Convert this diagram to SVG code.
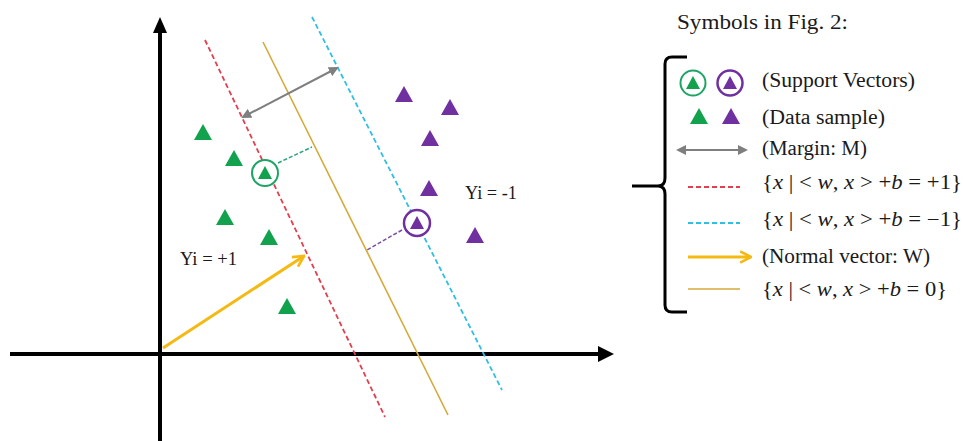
<svg xmlns="http://www.w3.org/2000/svg" width="963" height="441" viewBox="0 0 963 441">
<defs>
<style>
.txt{font-family:"Liberation Serif","Times New Roman",serif;fill:#1a1a1a;}
.lbl{font-size:18px;}
.leg{font-size:20px;}
.it{font-style:italic;}
.g{fill:#12a24e;}
.p{fill:#7030a0;}
.axis{stroke:#000;stroke-width:4;fill:none;}
.red{stroke:#e0404e;stroke-width:1.8;stroke-dasharray:5 3;fill:none;}
.cyan{stroke:#30bfe0;stroke-width:1.8;stroke-dasharray:5 3;fill:none;}
.gold{stroke:#d4aa3a;stroke-width:1.6;fill:none;}
.normal{stroke:#f5b914;stroke-width:3;fill:none;}
.margin{stroke:#7f7f7f;stroke-width:2;fill:none;}
</style>
<marker id="gh" viewBox="0 0 10 10" refX="8" refY="5" markerWidth="5" markerHeight="5" orient="auto-start-reverse" markerUnits="strokeWidth">
<path d="M0,0 L10,5 L0,10 z" fill="#7f7f7f"/>
</marker>
<marker id="yh" viewBox="0 0 10 10" refX="9" refY="5" markerWidth="4.5" markerHeight="4.5" orient="auto" markerUnits="strokeWidth">
<path d="M1,0.8 L9,5 L1,9.2" fill="none" stroke="#f5b914" stroke-width="2"/>
</marker>
<path id="tri" d="M0,-8 L9,8 L-9,8 z"/>
<path id="stri" d="M0,-7 L7,6 L-7,6 z"/>
</defs>
<rect width="963" height="441" fill="#fff"/>

<g id="axes">
<line class="axis" x1="160" y1="441" x2="160" y2="30"/>
<polygon points="160,17 153,33 167,33" fill="#000"/>
<line class="axis" x1="10" y1="354" x2="600" y2="354"/>
<polygon points="614,354 598,346 598,362" fill="#000"/>
</g>

<g id="connectors">
<line class="red" x1="205" y1="40" x2="385" y2="417"/>
<line class="gold" x1="263" y1="42" x2="448" y2="415"/>
<line class="cyan" x1="312" y1="17" x2="502" y2="390"/>
<line class="margin" x1="243" y1="117" x2="337" y2="68" marker-start="url(#gh)" marker-end="url(#gh)"/>
<line class="normal" x1="163" y1="348" x2="304" y2="256" marker-end="url(#yh)"/>
<line x1="278" y1="163" x2="312" y2="147" stroke="#2aa37a" stroke-width="1.5" stroke-dasharray="4 2"/>
<line x1="402" y1="230" x2="367" y2="250" stroke="#7a4fa0" stroke-width="1.5" stroke-dasharray="4 2"/>
</g>

<g id="green-samples" class="g">
<use href="#tri" x="203" y="132"/>
<use href="#tri" x="234" y="158"/>
<use href="#tri" x="225" y="217"/>
<use href="#tri" x="269" y="237"/>
<use href="#tri" x="287" y="306"/>
</g>
<g id="green-sv">
<circle cx="265" cy="173" r="13" fill="#fff" stroke="#1ea465" stroke-width="2"/>
<use href="#stri" x="265" y="173" class="g"/>
</g>
<g id="purple-samples" class="p">
<use href="#tri" x="404" y="94"/>
<use href="#tri" x="450" y="107"/>
<use href="#tri" x="430" y="138"/>
<use href="#tri" x="429" y="188"/>
<use href="#tri" x="475" y="235"/>
</g>
<g id="purple-sv">
<circle cx="417" cy="223" r="13" fill="#fff" stroke="#7030a0" stroke-width="2.5"/>
<use href="#stri" x="417" y="223" class="p"/>
</g>

<g id="labels">
<text class="txt lbl" x="465" y="199" textLength="52" lengthAdjust="spacingAndGlyphs">Yi = -1</text>
<text class="txt lbl" x="180" y="265" textLength="57" lengthAdjust="spacingAndGlyphs">Yi = +1</text>
</g>

<g id="legend">
<text class="txt" x="677" y="29" font-size="20" textLength="171" lengthAdjust="spacingAndGlyphs">Symbols in Fig. 2:</text>
<path d="M687,57 L672,57 Q665,57 665,64 L665,178 Q665,186 658,186 L632,186 M658,186 Q665,186 665,194 L665,305 Q665,312 672,312 L687,312" fill="none" stroke="#000" stroke-width="3"/>
<g id="leg-sv">
<circle cx="693" cy="83" r="12.5" fill="#fff" stroke="#1ea465" stroke-width="2"/>
<use href="#stri" x="693" y="83" class="g"/>
<circle cx="730" cy="83" r="12.5" fill="#fff" stroke="#7030a0" stroke-width="2.5"/>
<use href="#stri" x="730" y="83" class="p"/>
<text class="txt leg" x="762" y="87" textLength="153" lengthAdjust="spacingAndGlyphs">(Support Vectors)</text>
</g>
<g id="leg-data">
<use href="#tri" x="699" y="116" class="g"/>
<use href="#tri" x="731" y="116" class="p"/>
<text class="txt leg" x="762" y="124" textLength="123" lengthAdjust="spacingAndGlyphs">(Data sample)</text>
</g>
<g id="leg-margin">
<line class="margin" x1="678" y1="150" x2="746" y2="150" marker-start="url(#gh)" marker-end="url(#gh)"/>
<text class="txt leg" x="762" y="155" textLength="105" lengthAdjust="spacingAndGlyphs">(Margin: M)</text>
</g>
<g id="leg-plus">
<line class="red" x1="688" y1="187" x2="740" y2="187"/>
<text class="txt leg" x="762" y="189" textLength="200" lengthAdjust="spacingAndGlyphs">{<tspan class="it">x</tspan> | &lt; <tspan class="it">w</tspan>, <tspan class="it">x</tspan> &gt; +<tspan class="it">b</tspan> = +1}</text>
</g>
<g id="leg-minus">
<line class="cyan" x1="688" y1="223" x2="740" y2="223"/>
<text class="txt leg" x="762" y="226" textLength="200" lengthAdjust="spacingAndGlyphs">{<tspan class="it">x</tspan> | &lt; <tspan class="it">w</tspan>, <tspan class="it">x</tspan> &gt; +<tspan class="it">b</tspan> = −1}</text>
</g>
<g id="leg-normal">
<line class="normal" x1="688" y1="257" x2="751" y2="257" marker-end="url(#yh)"/>
<text class="txt leg" x="762" y="263" textLength="168" lengthAdjust="spacingAndGlyphs">(Normal vector: W)</text>
</g>
<g id="leg-zero">
<line class="gold" x1="688" y1="289" x2="740" y2="289"/>
<text class="txt leg" x="762" y="296" textLength="185" lengthAdjust="spacingAndGlyphs">{<tspan class="it">x</tspan> | &lt; <tspan class="it">w</tspan>, <tspan class="it">x</tspan> &gt; +<tspan class="it">b</tspan> = 0}</text>
</g>
</g>
</svg>
